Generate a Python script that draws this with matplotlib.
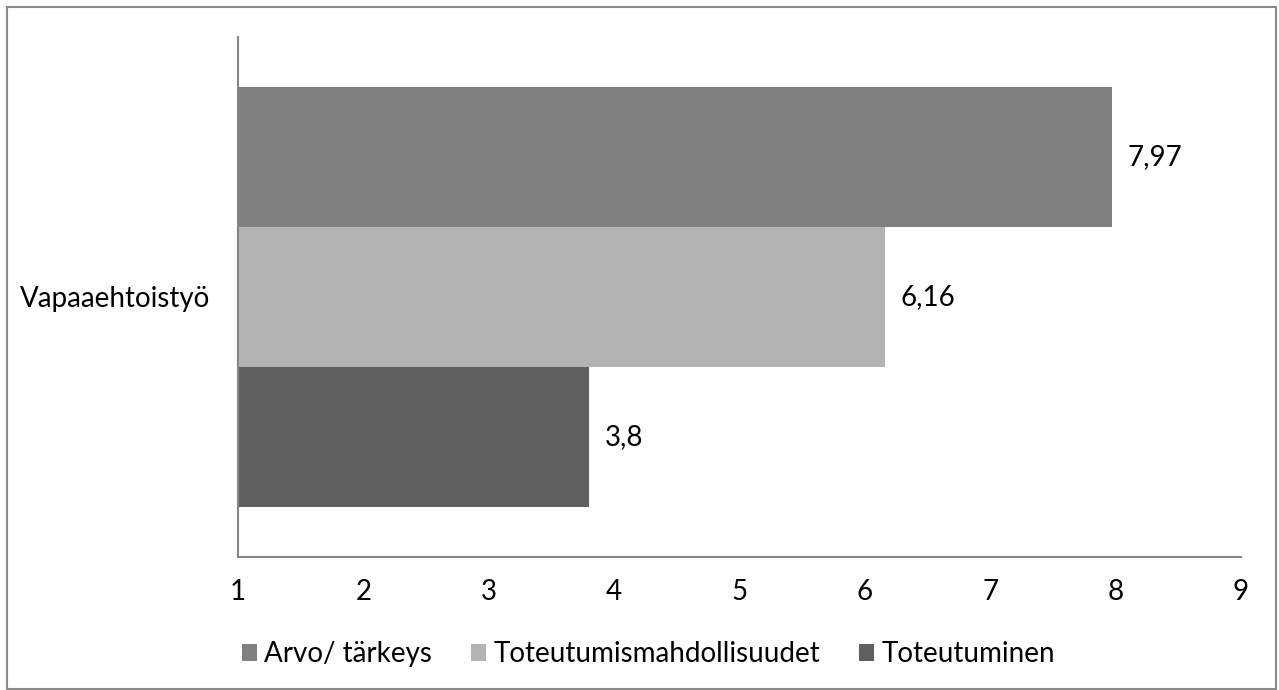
import matplotlib
matplotlib.use("Agg")
import matplotlib.pyplot as plt
from matplotlib.patches import Patch, Rectangle

category = "Vapaaehtoistyö"
series_names = ["Arvo/ tärkeys", "Toteutumismahdollisuudet", "Toteutuminen"]
series_values = [7.97, 6.16, 3.8]
value_labels = ["7,97", "6,16", "3,8"]
x_ticks = [1, 2, 3, 4, 5, 6, 7, 8, 9]

colors = ["#808080", "#b3b3b3", "#606060"]
axis_color = "#868686"
fs = 20

plt.rcParams["font.family"] = ["Lato", "DejaVu Sans"]

fig = plt.figure(figsize=(12.79, 6.9), dpi=100)
ax = fig.add_axes([0.1861, 0.1928, 0.7842, 0.7536])

# three bars stacked inside one category band
bar_h = 0.2692
offsets = [bar_h, 0.0, -bar_h]
for val, off, col, lab in zip(series_values, offsets, colors, value_labels):
    ax.barh(off, val - 1, left=1, height=bar_h, color=col, linewidth=0)
    ax.annotate(lab, (val, off), xytext=(11, 0), textcoords="offset points",
                ha="left", va="center", fontsize=fs, color="black")

ax.set_xlim(1, 9)
ax.set_ylim(-0.5, 0.5)
ax.set_xticks(x_ticks)
ax.set_xticklabels([str(t) for t in x_ticks], fontsize=fs)
ax.set_yticks([0])
ax.set_yticklabels([category], fontsize=fs)
ax.tick_params(axis="both", length=0)
ax.tick_params(axis="x", pad=16)
ax.tick_params(axis="y", pad=20)
for side in ["top", "right"]:
    ax.spines[side].set_visible(False)
for side in ["left", "bottom"]:
    ax.spines[side].set_color(axis_color)
    ax.spines[side].set_linewidth(1.5)

handles = [Patch(facecolor=c, edgecolor="none") for c in colors]
fig.legend(handles, series_names, loc="center", bbox_to_anchor=(0.507, 0.052),
           ncol=3, frameon=False, fontsize=fs, handlelength=0.55, handleheight=0.55,
           handletextpad=0.25, columnspacing=1.4)

# outer chart border
fig.patches.append(Rectangle((0.0055, 0.002), 0.9925, 0.988, transform=fig.transFigure,
                             fill=False, edgecolor="#898989", linewidth=1.5))

fig.savefig("out.png", dpi=100)
